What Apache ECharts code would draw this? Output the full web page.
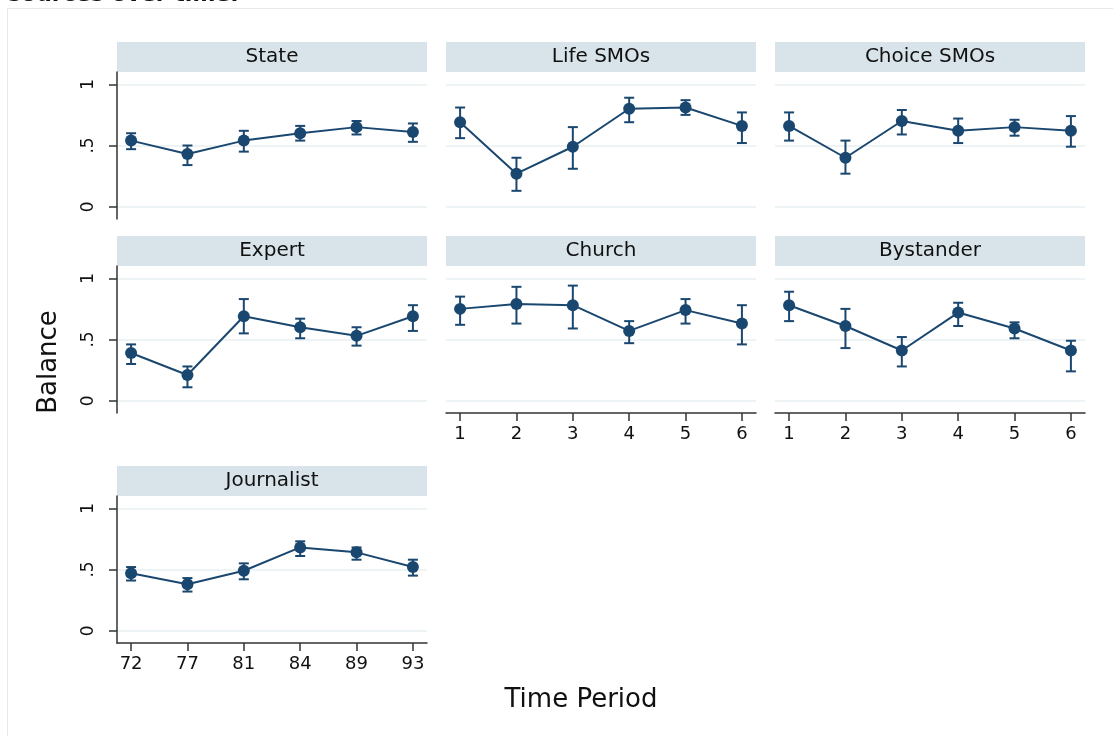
<!DOCTYPE html>
<html>
<head>
<meta charset="utf-8">
<script src="https://cdn.jsdelivr.net/npm/echarts@6/dist/echarts.min.js"></script>
<style>html,body{margin:0;padding:0;background:#fff;}#c{width:1113px;height:736px;}</style>
</head>
<body>
<div id="c"></div>
<script>
// ---- data ----
const periods = [1, 2, 3, 4, 5, 6];
const yearLabels = ['72', '77', '81', '84', '89', '93'];
const periodLabels = ['1', '2', '3', '4', '5', '6'];
const yTicks = [0, 0.5, 1];
const yTickLabels = ['0', '.5', '1'];
const panelNames = ['State', 'Life SMOs', 'Choice SMOs', 'Expert', 'Church', 'Bystander', 'Journalist'];

const stateMean = [0.54, 0.43, 0.54, 0.60, 0.65, 0.61];
const stateLow  = [0.47, 0.34, 0.45, 0.54, 0.59, 0.53];
const stateHigh = [0.60, 0.50, 0.62, 0.66, 0.70, 0.68];

const lifeMean = [0.69, 0.27, 0.49, 0.80, 0.81, 0.66];
const lifeLow  = [0.56, 0.13, 0.31, 0.69, 0.75, 0.52];
const lifeHigh = [0.81, 0.40, 0.65, 0.89, 0.87, 0.77];

const choiceMean = [0.66, 0.40, 0.70, 0.62, 0.65, 0.62];
const choiceLow  = [0.54, 0.27, 0.59, 0.52, 0.58, 0.49];
const choiceHigh = [0.77, 0.54, 0.79, 0.72, 0.71, 0.74];

const expertMean = [0.39, 0.21, 0.69, 0.60, 0.53, 0.69];
const expertLow  = [0.30, 0.11, 0.55, 0.51, 0.45, 0.57];
const expertHigh = [0.46, 0.28, 0.83, 0.67, 0.60, 0.78];

const churchMean = [0.75, 0.79, 0.78, 0.57, 0.74, 0.63];
const churchLow  = [0.62, 0.63, 0.59, 0.47, 0.63, 0.46];
const churchHigh = [0.85, 0.93, 0.94, 0.65, 0.83, 0.78];

const bystanderMean = [0.78, 0.61, 0.41, 0.72, 0.59, 0.41];
const bystanderLow  = [0.65, 0.43, 0.28, 0.61, 0.51, 0.24];
const bystanderHigh = [0.89, 0.75, 0.52, 0.80, 0.64, 0.49];

const journalistMean = [0.47, 0.38, 0.49, 0.68, 0.64, 0.52];
const journalistLow  = [0.41, 0.32, 0.42, 0.61, 0.58, 0.45];
const journalistHigh = [0.52, 0.43, 0.55, 0.73, 0.68, 0.58];

// ---- layout ----
const FONT = 'DejaVu Sans';
const NAVY = '#1a476f';
const STRIP = '#d9e4ea';
const GRIDC = '#e9f1f3';
const colLeft = [117, 446, 775];
const rowTop = [72, 266, 496];
const W = 310, H = 147, STRIP_H = 30;

const panels = [
  {name: panelNames[0], mean: stateMean, low: stateLow, high: stateHigh, col: 0, row: 0, yAxis: true, xAxis: false, xl: periodLabels},
  {name: panelNames[1], mean: lifeMean, low: lifeLow, high: lifeHigh, col: 1, row: 0, yAxis: false, xAxis: false, xl: periodLabels},
  {name: panelNames[2], mean: choiceMean, low: choiceLow, high: choiceHigh, col: 2, row: 0, yAxis: false, xAxis: false, xl: periodLabels},
  {name: panelNames[3], mean: expertMean, low: expertLow, high: expertHigh, col: 0, row: 1, yAxis: true, xAxis: false, xl: periodLabels},
  {name: panelNames[4], mean: churchMean, low: churchLow, high: churchHigh, col: 1, row: 1, yAxis: false, xAxis: true, xl: periodLabels},
  {name: panelNames[5], mean: bystanderMean, low: bystanderLow, high: bystanderHigh, col: 2, row: 1, yAxis: false, xAxis: true, xl: periodLabels},
  {name: panelNames[6], mean: journalistMean, low: journalistLow, high: journalistHigh, col: 0, row: 2, yAxis: true, xAxis: true, xl: yearLabels}
];

const grid = [], xAxis = [], yAxis = [], series = [], graphic = [];

graphic.push({type: 'rect', silent: true, shape: {x: 7.5, y: 8.5, width: 1200, height: 800},
  style: {fill: '#fff', stroke: '#e6eaec', lineWidth: 1}, z: -10});
graphic.push({type: 'text', silent: true, x: 8, y: -16,
  style: {text: 'sources over time.', font: 'bold 22px ' + FONT, fill: '#111'}});

panels.forEach((p, i) => {
  const left = colLeft[p.col], top = rowTop[p.row];
  grid.push({left: left, top: top, width: W, height: H, containLabel: false});
  graphic.push({type: 'rect', silent: true, shape: {x: left, y: top - STRIP_H, width: W, height: STRIP_H},
    style: {fill: STRIP}});
  graphic.push({type: 'text', silent: true, x: left + W / 2, y: top - STRIP_H / 2,
    style: {text: p.name, font: '20px ' + FONT, fill: '#111', align: 'center', verticalAlign: 'middle'}});
  const labels = p.xl;
  xAxis.push({
    type: 'value', gridIndex: i, min: 0.75, max: 6.25,
    axisLine: {show: p.xAxis, onZero: false, lineStyle: {color: '#333', width: 1.5}},
    axisTick: {show: p.xAxis, customValues: periods, length: 8, lineStyle: {color: '#333', width: 1.5}},
    axisLabel: {show: p.xAxis, customValues: periods, margin: 12, color: '#111', fontFamily: FONT, fontSize: 18,
      formatter: v => labels[Math.round(v) - 1]},
    splitLine: {show: false}
  });
  yAxis.push({
    type: 'value', gridIndex: i, min: -0.1, max: 1.1,
    axisLine: {show: p.yAxis, onZero: false, lineStyle: {color: '#333', width: 1.5}},
    axisTick: {show: p.yAxis, customValues: yTicks, length: 8, lineStyle: {color: '#333', width: 1.5}},
    axisLabel: {show: p.yAxis, customValues: yTicks, rotate: 90, margin: 20, color: '#111', fontFamily: FONT, fontSize: 17,
      formatter: v => yTickLabels[yTicks.indexOf(Math.round(v * 10) / 10)]},
    splitLine: {show: true, lineStyle: {color: GRIDC, width: 1.5}}
  });
  const errData = periods.map((x, k) => [x, p.low[k], p.high[k]]);
  series.push({
    type: 'custom', xAxisIndex: i, yAxisIndex: i, z: 2, silent: true,
    data: errData,
    renderItem: (params, api) => {
      const lo = api.coord([api.value(0), api.value(1)]);
      const hi = api.coord([api.value(0), api.value(2)]);
      const cw = 5;
      const st = {stroke: NAVY, lineWidth: 2, fill: null};
      return {type: 'group', children: [
        {type: 'line', shape: {x1: lo[0], y1: lo[1], x2: hi[0], y2: hi[1]}, style: st},
        {type: 'line', shape: {x1: lo[0] - cw, y1: lo[1], x2: lo[0] + cw, y2: lo[1]}, style: st},
        {type: 'line', shape: {x1: hi[0] - cw, y1: hi[1], x2: hi[0] + cw, y2: hi[1]}, style: st}
      ]};
    }
  });
  series.push({
    type: 'line', xAxisIndex: i, yAxisIndex: i, z: 3, silent: true,
    data: periods.map((x, k) => [x, p.mean[k]]),
    symbol: 'circle', symbolSize: 12, showSymbol: true,
    lineStyle: {color: NAVY, width: 2},
    itemStyle: {color: NAVY},
    animation: false
  });
});

graphic.push({type: 'text', silent: true, x: 49, y: 362, rotation: Math.PI / 2,
  style: {text: 'Balance', font: '26px ' + FONT, fill: '#111', align: 'center', verticalAlign: 'middle'}});
graphic.push({type: 'text', silent: true, x: 581, y: 700,
  style: {text: 'Time Period', font: '26px ' + FONT, fill: '#111', align: 'center', verticalAlign: 'middle'}});

const chart = echarts.init(document.getElementById('c'), null, {renderer: 'canvas'});
chart.setOption({
  animation: false,
  backgroundColor: '#fff',
  grid: grid, xAxis: xAxis, yAxis: yAxis, series: series, graphic: graphic
});
</script>
</body>
</html>
